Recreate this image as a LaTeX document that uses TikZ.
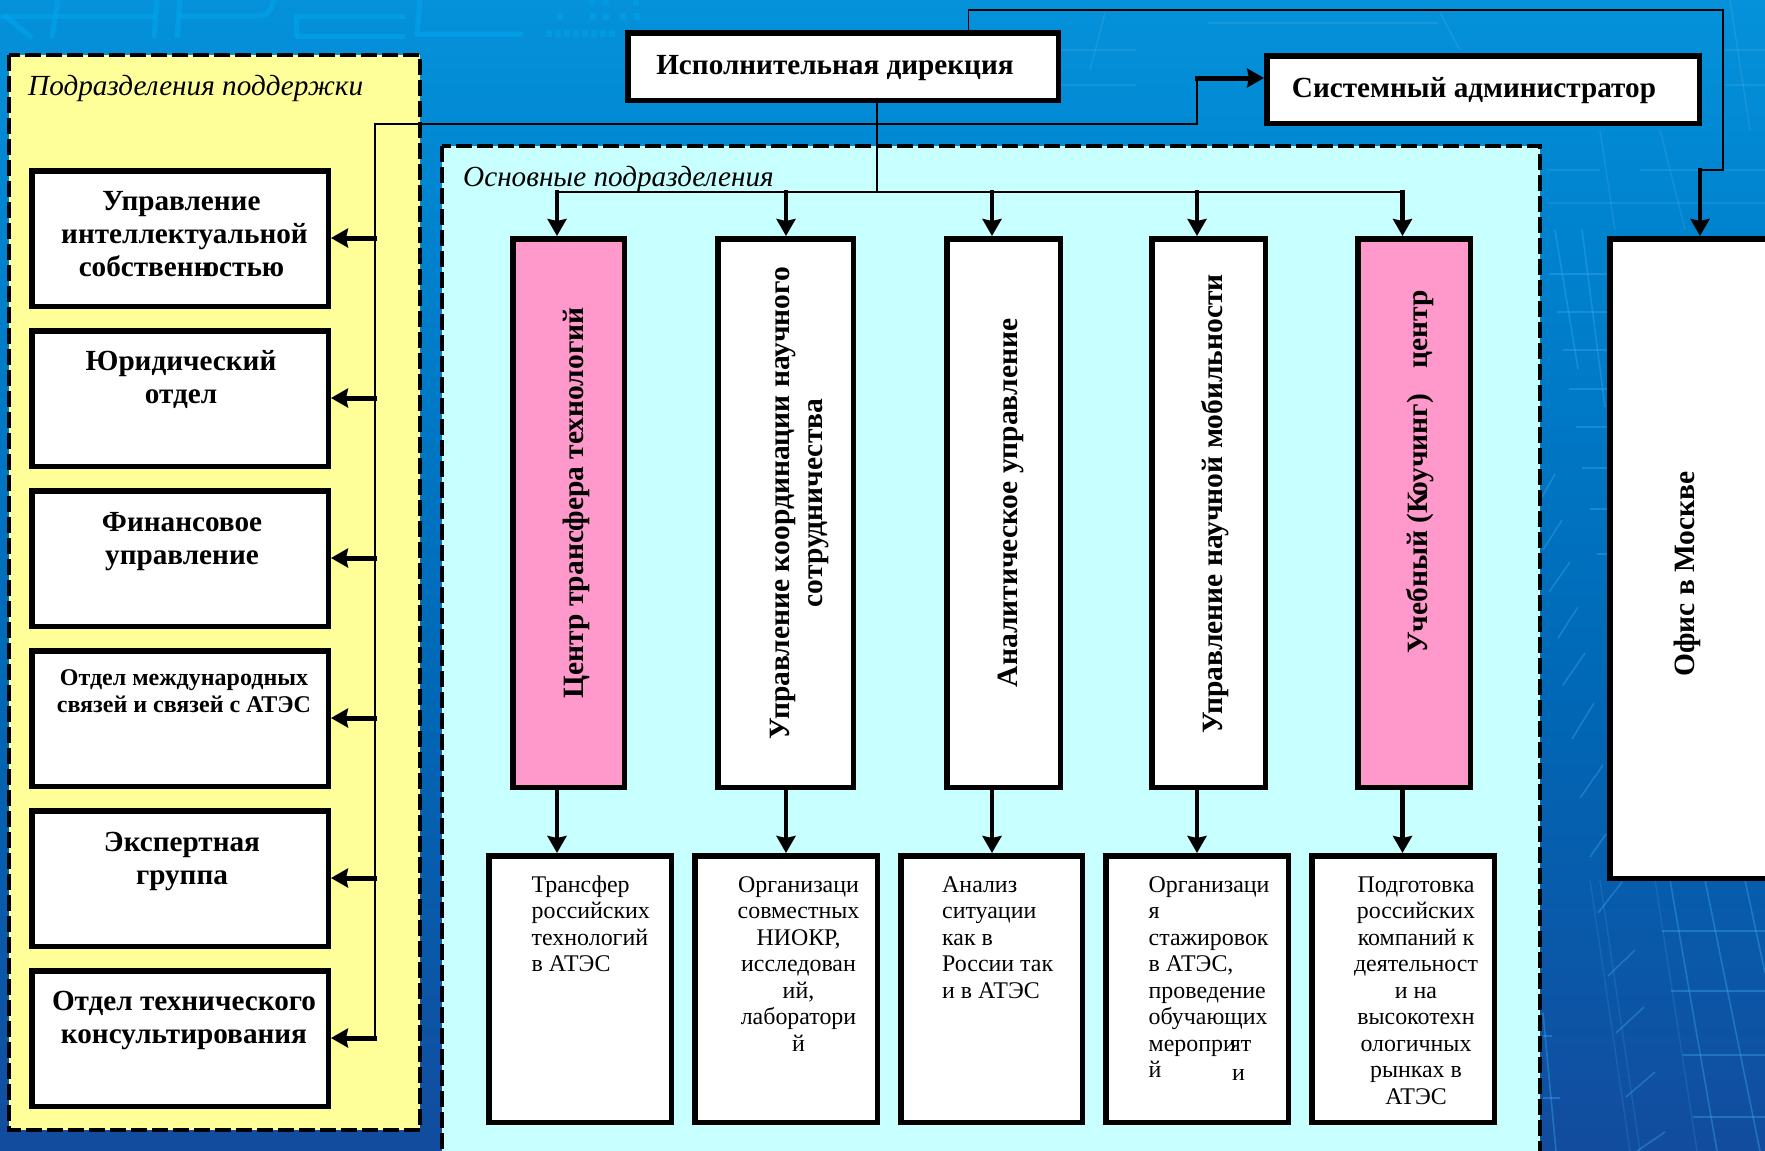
\documentclass[tikz,border=0pt]{standalone}
\usepackage{fontspec}
\setmainfont{Liberation Serif}
\usetikzlibrary{arrows.meta}
\definecolor{bga}{HTML}{0592DA}
\definecolor{bgb}{HTML}{0083CF}
\definecolor{bgc}{HTML}{0068B6}
\definecolor{bgd}{HTML}{124C9E}
\definecolor{yel}{HTML}{FFFF99}
\definecolor{cya}{HTML}{C8FFFF}
\definecolor{pnk}{HTML}{FF99CC}
\definecolor{wm}{HTML}{00A6EE}
\definecolor{ray}{HTML}{3AA6EE}
\pgfdeclareverticalshading{bgsh}{100bp}{color(0bp)=(bgd);color(25bp)=(bgd);color(45bp)=(bgc);color(65bp)=(bgb);color(75bp)=(bga);color(100bp)=(bga)}
\tikzset{
 panel/.style={draw=black,line width=4pt,dash pattern=on 16pt off 5pt},
 bx/.style={draw=black,line width=5.5pt,fill=white},
 pinkbx/.style={bx,fill=pnk},
 thinln/.style={draw=black,line width=1.8pt},
 arr/.style={draw=black,line width=4.3pt,-{Stealth[length=17pt,width=19pt,inset=2pt]}},
 arrh/.style={arr,line width=5pt},
 big/.style={inner sep=0pt,font=\fontsize{29.2}{33}\selectfont\bfseries,align=center},
 vtxt/.style={inner sep=0pt,font=\fontsize{29.5}{33}\selectfont\bfseries,align=center,rotate=90},
 small/.style={inner sep=0pt,font=\fontsize{24}{27}\selectfont\bfseries,align=center},
 body/.style={inner sep=0pt,font=\fontsize{23.9}{26.5}\selectfont},
 ital/.style={inner sep=0pt,font=\fontsize{29.2}{33}\selectfont\itshape,anchor=base west},
 wmark/.style={draw=wm,line width=5pt,opacity=.55},
 rayln/.style={draw=ray,line width=1.6pt,opacity=.4},
 raysoft/.style={draw=white,line width=1.5pt,opacity=.08},
}
\newcommand{\fl}{\rule{0pt}{24pt}}
\newcommand{\bxat}[6]{\node[#1,minimum width=#4pt-#3pt-5.5pt,minimum height=#6pt-#5pt-5.5pt,inner sep=0pt,outer sep=0pt,anchor=north west] (#2) at (#3+2.75,#5+2.75) {};}
\begin{document}
\begin{tikzpicture}[x=1pt,y=-1pt]
\useasboundingbox (0,0) rectangle (1765,1151);
\clip (0,0) rectangle (1765,1151);
\fill[shading=bgsh] (0,0) rectangle (1765,1151);
% watermark at top left
\draw[wmark] (4,15) -- (32,38);
\draw[wmark] (58,0) -- (52,38);
\draw[wmark] (0,16) -- (155,16);
\draw[wmark] (157,0) -- (154,38);
\draw[wmark] (180,0) -- (177,38);
\draw[wmark] (178,16) -- (258,16) .. controls (268,16) and (272,8) .. (274,0);
\draw[wmark] (296,38) -- (296,16) -- (405,16);
\draw[wmark] (296,36) -- (405,36);
\draw[wmark] (420,0) -- (417,34) -- (523,34);
\foreach \x in {546,555,564,573,582,591,600,609} \fill[wm,opacity=.45] (\x,30) rectangle +(6,7);
\foreach \x in {557,590,603,620,634} \fill[wm,opacity=.45] (\x,13) rectangle +(6,7);
\foreach \x in {589,603,633} \fill[wm,opacity=.45] (\x,0) rectangle +(6,5);
% background rays, right side
\foreach \ya/\xa in {274/1549,312/1557,350/1563,389/1569,427/1576,468/1582,509/1590,554/1597}
  \draw[rayln] (\xa,\ya) -- (1607,\ya);
\draw[rayln] (1582,230) -- (1605,407);
\draw[rayln] (1555,230) -- (1578,369);
\foreach \xa/\ya/\xb/\yb in {1555/474/1542/497,1562/520/1543/550,1570/562/1549/592,1578/607/1558/638,1585/653/1563/685,1594/703/1572/739,1603/765/1580/798,1606/834/1590/857,1622/882/1598/913,1635/950/1608/976,1644/1007/1616/1033,1655/1072/1626/1097,1665/1132/1637/1151,1543/1036/1552/1036,1543/1098/1560/1098,1543/1013/1556/1151,1662/931/1765/931,1671/991/1765/991,1683/1055/1765/1055,1693/1117/1765/1117,1670/880/1717/1151,1705/880/1760/1151,1745/880/1765/973}
  \draw[rayln] (\xa,\ya) -- (\xb,\yb);
\foreach \xa/\xb in {1590/1630,1600/1640,1655/1697}
  \draw[rayln,opacity=.18] (\xa,880) -- (\xb,1151);
\foreach \xa/\ya/\xb/\yb in {1060/50/1136/50,1060/85/1136/85,1208/23/1438/23,1725/50/1765/50,1725/85/1765/85,1548/170/1600/170,1548/203/1765/203,1640/170/1765/170,1105/13/1090/70,1440/13/1460/50,1730/0/1750/130,1660/130/1685/230,1600/130/1615/230}
  \draw[raysoft] (\xa,\ya) -- (\xb,\yb);
% panels
\draw[panel,fill=yel] (9,55) rectangle (420,1130);
\draw[panel,fill=cya] (442,146) rectangle (1540,1152.6);
\node[ital] (lsup) at (28,95) {Подразделения поддержки};
\node[ital] (lmain) at (463,186) {Основные подразделения};
% top boxes
\bxat{bx}{ed}{625}{1061}{30}{103}
\node[big] (edt) at (835,68) {Исполнительная дирекция};
\bxat{bx}{sa}{1264}{1702}{53}{126}
\node[big] (sat) at (1474,91) {Системный администратор};
% left boxes
\bxat{bx}{l1}{29}{331}{168}{309}
\bxat{bx}{l2}{29}{331}{328}{469}
\bxat{bx}{l3}{29}{331}{488}{629}
\bxat{bx}{l4}{29}{331}{648}{789}
\bxat{bx}{l5}{29}{331}{808}{949}
\bxat{bx}{l6}{29}{331}{968}{1109}
\node[big,anchor=north] (l1t) at (181.5,186.5) {\fl Управление\\\hspace*{6pt}интеллектуальной\\собственн\kern-6pt остью};
\node[big,anchor=north] (l2t) at (181,346.5) {\fl Юридический\\отдел};
\node[big,anchor=north] (l3t) at (182,507) {\fl Финансовое\\управление};
\node[small,anchor=north] (l4t) at (184,661) {\fl Отдел международных\\связей и связей с АТЭС};
\node[big,anchor=north] (l5t) at (182,827.5) {\fl Экспертная\\группа};
\node[big,anchor=north] (l6t) at (184,986.5) {\fl Отдел технического\\консультирования};
% vertical boxes
\bxat{pinkbx}{v1}{510}{627}{236}{790}
\bxat{bx}{v2}{715}{856}{236}{790}
\bxat{bx}{v3}{944}{1063}{236}{790}
\bxat{bx}{v4}{1149}{1268}{236}{790}
\bxat{pinkbx}{v5}{1355}{1473}{236}{790}
\bxat{bx}{of}{1607}{1790}{236}{881}
\node[vtxt] (v1t) at (576,503) {Центр трансфера технологий};
\node[vtxt] (v2t) at (800,503) {Управление координации научного\\сотрудничества};
\node[vtxt] (v3t) at (1011,503) {Аналитическое управление};
\node[vtxt] (v4t) at (1215,504) {Управление научной мобильности};
\node[vtxt] (v5t) at (1420,472) {Учебный (К\kern-4pt оучинг)\hspace{25.5pt}центр};
\node[vtxt] (oft) at (1687,574) {Офис в Москве};
% bottom boxes
\bxat{bx}{d1}{486}{674}{853}{1125}
\bxat{bx}{d2}{692}{880}{853}{1125}
\bxat{bx}{d3}{898}{1085}{853}{1125}
\bxat{bx}{d4}{1103}{1291}{853}{1125}
\bxat{bx}{d5}{1309}{1497}{853}{1125}
\node[body,anchor=north west,align=left] (d1t) at (531.5,868) {\fl Трансфер\\российских\\технологий\\в АТЭС};
\node[body,anchor=north,align=center] (d2t) at (798.5,868) {\fl Организаци\\совместных\\НИОКР,\\исследован\\ий,\\лаборатори\\й};
\node[body,anchor=north west,align=left] (d3t) at (942,868) {\fl Анализ\\ситуации\\как в\\России так\\и в АТЭС};
\node[body,anchor=north west,align=left] (d4t) at (1148.5,868) {\fl Организаци\\я\\стажировок\\в АТЭС,\\проведение\\обучающих\\меропри\kern-6pt ят\\й};
\node[body,anchor=base west] (d4u) at (1232,1080.5) {и};
\node[body,anchor=north,align=center] (d5t) at (1416,868) {\fl Подготовка\\российских\\компаний к\\деятельност\\и на\\высокотехн\\ологичных\\рынках в\\АТЭС};
% connectors
\coordinate (jB) at (877,192);
\coordinate (la) at (375,124);
\coordinate (lb) at (375,1038);
\coordinate (sa1) at (1197,124);
\coordinate (sa2) at (1197,78);
\draw[thinln] (877,103) -- (jB);
\draw[thinln] (557,192) -- (1402.5,192);
\draw[thinln] (lb) -- (la) -- (sa1) -- (sa2);
\foreach \y in {238,398,558,718,878,1038}
  \draw[arrh] (377,\y) -- (331,\y);
\draw[arrh] (1195,78) -- (1264,78);
\foreach \x in {557,786,992,1197,1402.5}{
  \draw[arr] (\x,190) -- (\x,236);
  \draw[arr] (\x,790) -- (\x,853);
}
\coordinate (t1) at (968.5,10);
\coordinate (t2) at (1723,10);
\coordinate (t3) at (1723,170);
\coordinate (t4) at (1700,170);
\draw[thinln] (968.5,30) -- (t1) -- (t2) -- (t3) -- (t4);
\draw[arr] (1700,168) -- (1700,236);
\end{tikzpicture}
\end{document}
